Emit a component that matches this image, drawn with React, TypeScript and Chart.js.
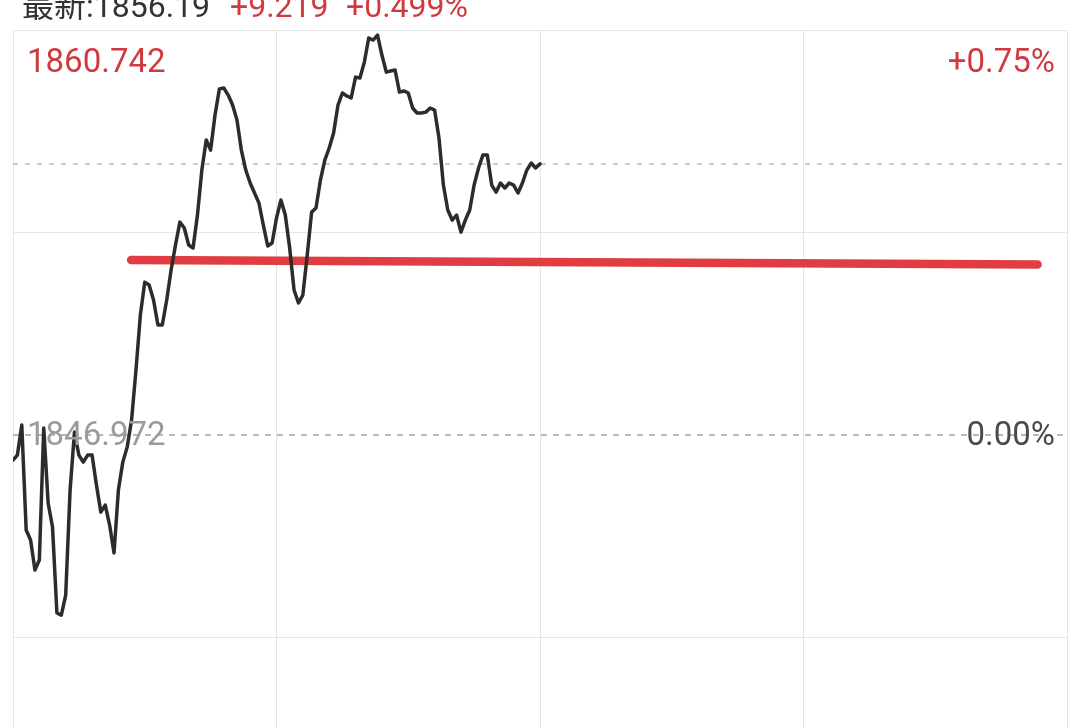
import React, { useEffect, useRef } from "react";
import { Chart, registerables } from "chart.js";

Chart.register(...registerables);

// ---- data ----
const prevClose = 1846.972;
const latestPrice = 1856.19;
const headerLatest = "最新:1856.19";
const headerChange = "+9.219";
const headerChangePct = "+0.499%";
const maxPctLabel = "+0.75%";
const zeroPctLabel = "0.00%";

const sessionMinutes = [0, 60, 120, 180, 240];
const yTickValues = [1833.202, 1840.087, 1846.972, 1853.857, 1860.742];

// one value per minute from 9:30 to 11:30
const prices = [
  1846.12, 1846.29, 1847.31, 1843.74, 1843.4, 1842.38, 1842.72, 1847.21, 1844.66, 1843.84,
  1840.92, 1840.85, 1841.53, 1845.1, 1847.07, 1846.29, 1846.05, 1846.29, 1846.29, 1845.27,
  1844.35, 1844.59, 1843.91, 1842.96, 1845.1, 1846.05, 1846.56, 1847.48, 1849.18, 1851.05,
  1852.17, 1852.07, 1851.56, 1850.71, 1850.71, 1851.56, 1852.58, 1853.43, 1854.21, 1854.01,
  1853.43, 1853.33, 1854.45, 1855.98, 1857.0, 1856.66, 1857.85, 1858.74, 1858.77, 1858.53,
  1858.19, 1857.68, 1856.66, 1855.98, 1855.54, 1855.2, 1854.86, 1854.11, 1853.4, 1853.5,
  1854.35, 1854.96, 1854.45, 1853.33, 1851.9, 1851.46, 1851.73, 1853.09, 1854.55, 1854.69,
  1855.64, 1856.32, 1856.73, 1857.24, 1858.19, 1858.6, 1858.5, 1858.43, 1859.14, 1859.11,
  1859.65, 1860.47, 1860.4, 1860.57, 1859.89, 1859.31, 1859.35, 1859.38, 1858.63, 1858.67,
  1858.6, 1858.09, 1857.92, 1857.92, 1857.95, 1858.09, 1858.02, 1857.07, 1855.47, 1854.62,
  1854.28, 1854.45, 1853.87, 1854.28, 1854.62, 1855.47, 1856.05, 1856.49, 1856.49, 1855.47,
  1855.23, 1855.54, 1855.37, 1855.54, 1855.47, 1855.2, 1855.54, 1855.98, 1856.22, 1856.05,
  1856.19,
];

// user-drawn trend line
const trendMinutes = [26.9, 233.3];
const trendPrices = [1852.92, 1852.77];

// ---- styles ----
const RED = "#d0393e";
const TREND_RED = "#e03c41";
const GRID = "#e6e6e6";
const FONT = "Roboto, 'Noto Sans CJK SC', sans-serif";

const labelPlugin = {
  id: "priceLabels",
  afterDatasetsDraw(chart: any) {
    const { ctx, chartArea, scales } = chart;
    const y = scales.y;
    const top = y.getPixelForValue(yTickValues[yTickValues.length - 1]);
    const zero = y.getPixelForValue(prevClose);
    ctx.save();
    ctx.font = `33px ${FONT}`;
    ctx.textBaseline = "alphabetic";
    ctx.textAlign = "left";
    ctx.fillStyle = RED;
    ctx.fillText(yTickValues[yTickValues.length - 1].toFixed(3), chartArea.left + 14, top + 42);
    ctx.fillStyle = "#9b9b9b";
    ctx.fillText(prevClose.toFixed(3), chartArea.left + 14, zero + 10);
    ctx.textAlign = "right";
    ctx.fillStyle = RED;
    ctx.fillText(maxPctLabel, chartArea.right - 12, top + 42);
    ctx.fillStyle = "#4a4a4a";
    ctx.fillText(zeroPctLabel, chartArea.right - 12, zero + 10);
    ctx.restore();
  },
};

export default function App() {
  const canvasRef = useRef<HTMLCanvasElement | null>(null);

  useEffect(() => {
    if (!canvasRef.current) return;
    const chart = new Chart(canvasRef.current, {
      type: "line",
      data: {
        datasets: [
          {
            data: prices.map((p, i) => ({ x: i, y: p })),
            borderColor: "#2c2c2c",
            borderWidth: 3.5,
            borderJoinStyle: "round",
            borderCapStyle: "round",
            pointRadius: 0,
            tension: 0,
            fill: false,
            order: 0,
          },
          {
            data: trendMinutes.map((m, i) => ({ x: m, y: trendPrices[i] })),
            borderColor: TREND_RED,
            borderWidth: 8.5,
            borderCapStyle: "round",
            pointRadius: 0,
            fill: false,
            order: 1,
          },
          {
            data: [
              { x: sessionMinutes[0], y: prevClose },
              { x: sessionMinutes[sessionMinutes.length - 1], y: prevClose },
            ],
            borderColor: "#a0a0a0",
            borderWidth: 1.5,
            borderDash: [6, 6],
            pointRadius: 0,
            fill: false,
            order: 2,
          },
          {
            data: [
              { x: sessionMinutes[0], y: latestPrice },
              { x: sessionMinutes[sessionMinutes.length - 1], y: latestPrice },
            ],
            borderColor: "#c2bd94",
            borderWidth: 1.5,
            borderDash: [5, 7],
            pointRadius: 0,
            fill: false,
            order: 3,
          },
        ],
      },
      options: {
        animation: false,
        responsive: false,
        maintainAspectRatio: false,
        layout: { padding: { left: 13, right: 13, top: 30, bottom: 10 } },
        plugins: {
          legend: { display: false },
          tooltip: { enabled: false },
          title: { display: false },
        },
        scales: {
          x: {
            type: "linear",
            min: sessionMinutes[0],
            max: sessionMinutes[sessionMinutes.length - 1],
            afterBuildTicks: (s: any) => {
              s.ticks = sessionMinutes.map((v) => ({ value: v }));
            },
            ticks: { display: false },
            grid: { color: GRID, drawTicks: false, lineWidth: 1 },
            border: { display: false },
          },
          y: {
            type: "linear",
            min: yTickValues[0],
            max: yTickValues[yTickValues.length - 1],
            afterBuildTicks: (s: any) => {
              s.ticks = yTickValues.map((v) => ({ value: v }));
            },
            ticks: { display: false },
            grid: {
              color: (c: any) =>
                c.tick && Math.abs(c.tick.value - prevClose) < 1e-6 ? "rgba(0,0,0,0)" : GRID,
              drawTicks: false,
              lineWidth: 1,
            },
            border: { display: false },
          },
        },
      },
      plugins: [labelPlugin],
    } as any);
    return () => chart.destroy();
  }, []);

  const headStyle: React.CSSProperties = {
    position: "absolute",
    top: -10,
    fontFamily: FONT,
    fontSize: 32,
    lineHeight: "32px",
    whiteSpace: "nowrap",
  };

  return (
    <div
      style={{
        position: "fixed",
        left: 0,
        top: 0,
        width: 1080,
        height: 728,
        overflow: "hidden",
        background: "#fff",
      }}
    >
      <canvas ref={canvasRef} width={1080} height={850} style={{ display: "block" }} />
      <span style={{ ...headStyle, left: 22, color: "#333" }}>{headerLatest}</span>
      <span style={{ ...headStyle, left: 230, color: RED }}>{headerChange}</span>
      <span style={{ ...headStyle, left: 346, color: RED }}>{headerChangePct}</span>
    </div>
  );
}
